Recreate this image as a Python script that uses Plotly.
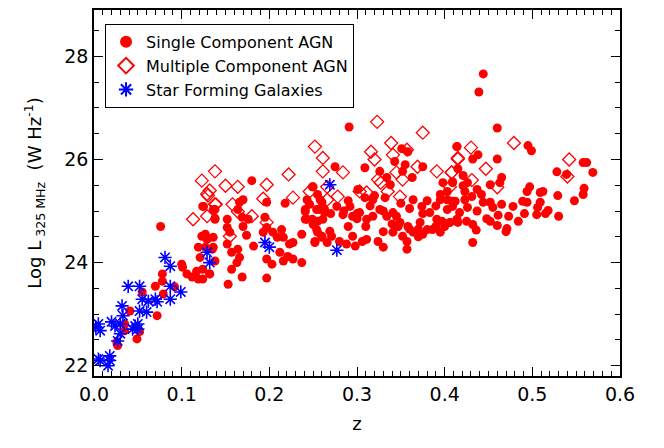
import plotly.graph_objects as go

sfg_z = [0.005,0.007,0.02,0.03,0.024,0.032,0.033,0.03,0.027,0.047,0.05,0.052,0.055,0.039,0.052,0.06,0.062,0.072,0.07,0.087,0.087,0.099,0.081,0.087,0.044,0.05,0.005,0.018,0.016,0.018,0.007,0.129,0.132,0.195,0.2,0.269,0.277,0.002]
sfg_L = [22.81,22.68,22.85,22.81,22.77,23.16,22.97,22.62,22.48,22.77,22.81,23.06,23.29,23.54,23.54,23.04,23.25,23.24,23.29,23.29,23.54,23.43,24.1,23.93,22.71,22.71,22.13,22.19,22.0,22.1,22.1,24.2,24.0,24.39,24.3,25.51,24.24,22.75]

mc_z = [0.252,0.261,0.261,0.222,0.197,0.227,0.193,0.138,0.123,0.15,0.164,0.132,0.13,0.139,0.158,0.164,0.18,0.129,0.113,0.155,0.197,0.129,0.138,
        0.323,0.375,0.339,0.316,0.341,0.32,0.357,0.284,0.345,0.369,0.391,0.408,0.415,0.324,0.352,0.266,0.303,0.335,0.349,0.311,0.278,0.266,0.246,0.327,
        0.479,0.43,0.415,0.447,0.408,0.431,0.542,0.54,0.46,0.406]
mc_L = [26.25,26.03,25.77,25.71,25.51,25.26,25.24,25.77,25.59,25.49,25.47,25.4,25.3,25.13,25.13,24.99,24.9,24.9,24.84,24.51,24.78,25.33,25.13,
        26.73,26.52,26.32,26.15,26.09,26.0,26.19,25.75,25.75,25.86,25.77,25.75,26.03,25.61,25.61,25.47,25.38,25.38,25.28,25.36,25.28,25.22,25.38,25.55,
        26.32,26.23,26.01,25.82,25.75,25.6,26.0,25.67,25.46,25.47]

sc_z = [0.076,0.026,0.027,0.035,0.041,0.055,0.072,0.07,0.078,0.078,0.079,0.092,0.1,0.101,0.106,0.112,0.119,0.124,0.132,0.121,0.138,0.123,0.129,0.136,0.119,0.127,0.136,0.124,0.138,0.138,0.049,0.052,0.035,
        0.18,0.125,0.136,0.138,0.17,0.166,0.164,0.152,0.152,0.169,0.17,0.176,0.155,0.152,0.157,0.164,0.166,0.163,0.157,0.153,0.169,0.132,0.124,0.117,0.127,0.135,0.174,0.182,0.195,0.197,0.193,0.204,0.214,0.216,0.209,0.223,0.227,0.212,0.221,0.227,0.216,0.237,0.197,0.203,0.197,0.237,0.218,0.197,0.241,0.246,0.243,0.249,0.254,0.255,0.254,0.252,0.26,0.249,0.255,0.26,0.263,
        0.291,0.351,0.358,0.343,0.309,0.275,0.326,0.334,0.352,0.355,0.375,0.25,0.243,0.241,0.241,0.258,0.256,0.263,0.261,0.25,0.255,0.252,0.26,0.269,0.271,0.266,0.28,0.29,0.295,0.288,0.298,0.306,0.311,0.324,0.284,0.277,0.292,0.295,0.303,0.311,0.318,0.326,0.334,0.341,0.349,0.358,0.364,0.374,0.383,0.391,0.372,0.38,0.364,0.375,0.347,0.352,0.357,0.341,0.395,0.403,0.409,0.406,0.414,0.398,0.409,0.414,0.332,0.318,0.309,0.301,0.338,0.363,0.357,0.386,
        0.444,0.439,0.46,0.414,0.432,0.438,0.46,0.415,0.421,0.495,0.499,0.558,0.562,0.569,0.528,0.539,0.559,0.558,0.529,0.465,0.463,0.452,0.409,0.421,0.426,0.403,0.423,0.437,0.442,0.431,0.423,0.412,0.403,0.395,0.452,0.444,0.455,0.465,0.478,0.489,0.494,0.497,0.494,0.509,0.512,0.509,0.506,0.518,0.491,0.505,0.473,0.461,0.452,0.448,0.46,0.471,0.432,0.436,0.432,0.425,0.415,0.406,0.397,0.395,0.409,0.417,0.426,0.437,0.548,0.53,0.515,0.484,0.47,0.39,0.37,0.33,
        0.285,0.3,0.315,0.33,0.345,0.36,0.375,0.39,0.31,0.34,0.37,0.4,0.29,0.32,0.35,0.38,0.27,0.3,0.33,0.36]
sc_L = [24.7,22.46,22.39,22.81,23.06,23.43,22.97,23.54,23.64,23.78,23.39,23.53,23.97,23.91,23.78,23.72,23.68,23.87,23.78,24.1,24.03,24.51,24.45,24.49,24.3,24.3,24.3,25.09,25.03,24.84,22.52,22.66,22.68,
        25.59,25.09,25.03,24.86,25.22,25.17,25.03,24.84,24.68,24.88,24.7,24.84,24.59,24.36,24.2,24.26,24.1,24.0,23.87,23.58,23.72,23.78,23.68,23.83,24.55,24.26,24.53,24.32,24.88,24.68,24.59,24.59,24.64,24.49,24.49,24.36,24.39,24.2,24.12,24.07,24.03,24.0,24.07,23.97,23.7,24.55,25.15,25.17,24.99,25.13,24.84,24.84,25.03,24.8,24.64,24.39,24.49,25.47,25.32,25.17,24.97,
        26.63,26.21,26.15,25.96,25.84,25.86,25.77,25.65,25.77,25.9,25.86,25.47,25.22,25.03,24.84,25.22,25.03,25.03,24.84,24.74,24.59,24.41,24.51,24.61,24.51,24.39,24.41,24.7,24.51,24.36,24.32,24.41,24.45,24.41,24.93,25.09,25.09,24.9,24.97,24.84,24.9,25.03,24.9,24.97,24.78,24.7,25.22,25.09,24.97,24.84,24.78,24.64,24.59,24.55,24.7,24.51,24.41,24.59,25.22,25.03,25.19,24.78,24.84,25.55,25.57,26.25,25.26,25.22,25.26,25.42,25.51,25.65,24.26,24.64,
        27.66,27.31,26.61,26.25,26.01,26.09,26.01,25.82,25.69,26.27,26.17,25.94,25.94,25.75,25.76,25.71,25.44,25.32,25.3,25.65,25.55,25.51,25.55,25.49,25.55,25.38,25.38,25.42,25.32,25.28,25.22,25.19,25.22,25.32,25.17,25.17,25.07,25.13,25.09,25.19,25.17,25.47,25.38,25.36,25.38,25.17,25.07,25.01,24.95,24.93,24.9,24.92,24.8,24.85,24.72,24.66,24.74,24.63,24.39,24.8,24.78,24.78,24.8,24.59,25.09,24.97,25.07,25.0,25.2,24.9,24.95,24.8,24.6,24.7,24.5,24.3,
        25.0,24.95,25.1,25.0,24.9,25.05,24.95,25.1,24.7,24.75,24.65,24.7,25.2,25.3,25.15,25.2,24.95,24.85,24.6,24.65]

fig = go.Figure()
fig.add_trace(go.Scatter(x=sc_z, y=sc_L, mode="markers", name="Single Component AGN",
                         marker=dict(symbol="circle", size=9, color="#ff0000")))
fig.add_trace(go.Scatter(x=mc_z, y=mc_L, mode="markers", name="Multiple Component AGN",
                         marker=dict(symbol="diamond-open", size=10, color="#ff0000", line=dict(width=1.3))))
fig.add_trace(go.Scatter(x=sfg_z, y=sfg_L, mode="markers", name="Star Forming Galaxies",
                         marker=dict(symbol="asterisk-open", size=11, color="#0000ff", line=dict(width=1.6, color="#0000ff"))))

axis_common = dict(showline=True, linecolor="black", linewidth=1.5, mirror="allticks",
                   ticks="inside", tickcolor="black", showgrid=False, zeroline=False,
                   tickfont=dict(size=19, color="black"))
fig.update_xaxes(range=[0, 0.6], dtick=0.1, tickformat=".1f", ticklen=9,
                 minor=dict(dtick=0.01, ticks="inside", ticklen=5, tickcolor="black", showgrid=False),
                 title=dict(text="z", font=dict(size=18, color="black"), standoff=14), **axis_common)
fig.update_yaxes(range=[21.8, 28.9], dtick=2, ticklen=9,
                 minor=dict(dtick=0.5, ticks="inside", ticklen=5, tickcolor="black", showgrid=False),
                 title=dict(text="Log L<sub> 325 MHz</sub>  (W Hz<sup>-1</sup>)", font=dict(size=18, color="black"), standoff=18),
                 **axis_common)
fig.update_layout(width=664, height=448, margin=dict(l=86, r=52, t=0, b=80),
                  plot_bgcolor="white", paper_bgcolor="white",
                  font=dict(family="DejaVu Sans", color="black"),
                  legend=dict(x=0.021, y=0.962, xanchor="left", yanchor="top",
                              bordercolor="black", borderwidth=1, bgcolor="white",
                              font=dict(size=16), itemsizing="constant", tracegroupgap=0))
fig.write_html("out.html")
